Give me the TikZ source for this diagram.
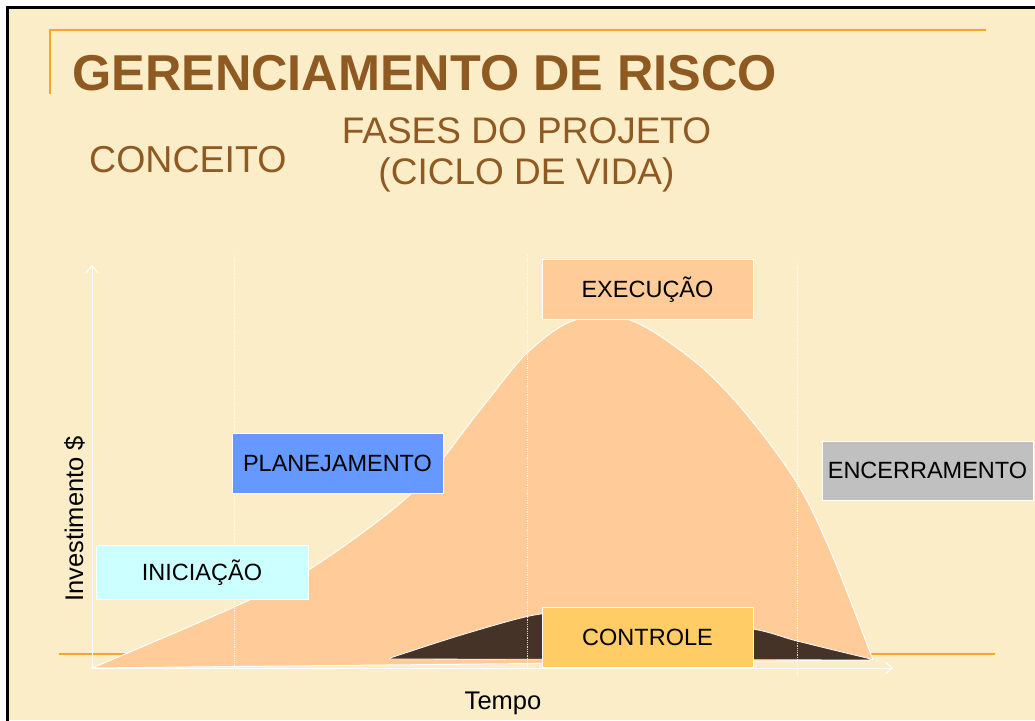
\documentclass[tikz,border=0pt]{standalone}
\usepackage{fontspec}
\setmainfont{Liberation Sans}
\usetikzlibrary{arrows.meta}
\definecolor{cream}{HTML}{FCEDC9}
\definecolor{peach}{HTML}{FFCC99}
\definecolor{titlebrown}{HTML}{8F5A22}
\definecolor{lineorange}{HTML}{F7A62C}
\definecolor{darkhump}{HTML}{463328}
\definecolor{planblue}{HTML}{6699FF}
\definecolor{initcyan}{HTML}{CCFFFF}
\definecolor{closegray}{HTML}{C0C0C0}
\definecolor{ctrlyellow}{HTML}{FFCC66}
\begin{document}
\begin{tikzpicture}[x=1pt,y=-1pt,
  phase/.style={draw=white, line width=1pt, minimum width=211pt, minimum height=60pt,
    inner sep=0pt, text height=16.8pt, text depth=0pt, text=black,
    font=\fontsize{23.5}{28}\selectfont},
  axisline/.style={draw=white, line width=1pt},
  guide/.style={draw=white, line width=0.8pt, densely dotted, opacity=0.8},
  headtext/.style={text=titlebrown, inner sep=0pt},
  axislabel/.style={text=black, inner sep=0pt, font=\fontsize{25.5}{30}\selectfont}]
\useasboundingbox (0,0) rectangle (1035,720);
\fill[white] (0,0) rectangle (1035,720);
\fill[cream] (7.5,7.5) rectangle (1035,720);
\draw[black, line width=2.5pt] (7.5,725) -- (7.5,7.5) -- (1040,7.5);
% header rule
\draw[lineorange, line width=2pt] (49.5,94) -- (49.5,29.5) -- (986,29.5);
% title and headings
\node[headtext, anchor=base west, font=\fontsize{50.4}{60}\bfseries] (title) at (72,90) {GERENCIAMENTO DE RISCO};
\node[headtext, anchor=base west, font=\fontsize{37.5}{44}\selectfont] (conceito) at (89,172) {CONCEITO};
\node[headtext, anchor=base, font=\fontsize{37}{44}\selectfont] (fases) at (526.5,143) {FASES DO PROJETO};
\node[headtext, anchor=base, font=\fontsize{37}{44}\selectfont] (ciclo) at (526.5,184) {(CICLO DE VIDA)};
% orange baseline rule behind chart
\draw[lineorange, line width=2pt] (59,654) -- (995,654);
% investment curve
\filldraw[fill=peach, draw=white, line width=1pt]
  plot[smooth, tension=0.55] coordinates {(92,668) (234,607) (310,569) (413,492) (480,410) (527,353) (575,320) (630,320) (693,360) (743,410) (797,483) (833,557) (873,660)}
  -- cycle;
% control hump
\filldraw[fill=darkhump, draw=white, line width=0.8pt]
  plot[smooth, tension=0.5] coordinates {(390,658) (458,636) (525,617) (560,613) (650,614) (753,629) (797,641) (875,660)}
  -- (390,659) -- cycle;
% guide lines
\draw[guide] (234,255) -- (234,668);
\draw[guide] (527,255) -- (527,668);
\draw[guide] (797,263) -- (797,677);
% axes
\coordinate (O) at (92,668);
\coordinate (ytop) at (92,265);
\coordinate (xend) at (893,668);
\draw[axisline, -{Straight Barb[length=7pt,width=12pt]}] (O) -- (ytop);
\draw[axisline, -{Straight Barb[length=7pt,width=12pt]}] (O) -- (xend);
\node[axislabel, anchor=base] (tempo) at (503,709) {Tempo};
\node[axislabel, anchor=base, rotate=90] (invest) at (83,519) {Investimento \$};
% phase boxes
\node[phase, fill=peach] (exec) at (647.5,289) {EXECUÇÃO};
\node[phase, fill=planblue] (plan) at (337.5,463) {PLANEJAMENTO};
\node[phase, fill=initcyan, minimum width=212pt, minimum height=54pt] (init) at (202,572.5) {INICIAÇÃO};
\node[phase, fill=closegray, minimum height=59pt] (close) at (927.5,470.5) {ENCERRAMENTO};
\node[phase, fill=ctrlyellow] (ctrl) at (647.5,637) {CONTROLE};
\end{tikzpicture}
\end{document}
